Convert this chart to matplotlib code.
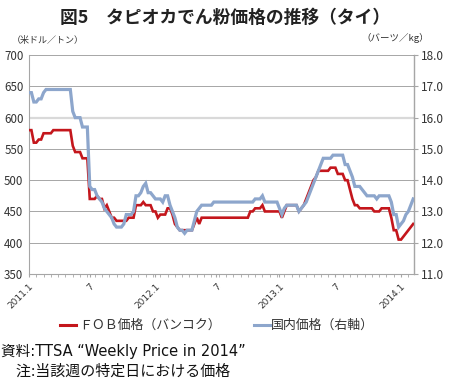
import numpy as np
import matplotlib
matplotlib.use('Agg')
import matplotlib.pyplot as plt

plt.rcParams['font.family'] = ['Noto Sans CJK JP', 'DejaVu Sans']

# ---------------------------------------------------------------------------
# data (weekly)
# ---------------------------------------------------------------------------
# FOB price, Bangkok (USD/t, left axis)
fob_usd = [
    580, 580, 560, 560, 565, 565, 575, 575, 575, 575,
    580, 580, 580, 580, 580, 580, 580, 580, 555, 545,
    545, 545, 535, 535, 535, 470, 470, 470, 475, 470,
    470, 455, 460, 450, 440, 440, 435, 435, 435, 435,
    435, 440, 440, 440, 460, 460, 460, 465, 460, 460,
    460, 450, 450, 440, 445, 445, 445, 455, 455, 445,
    430, 425, 420, 420, 420, 420, 420, 420, 430, 440,
    430, 440, 440, 440, 440, 440, 440, 440, 440, 440,
    440, 440, 440, 440, 440, 440, 440, 440, 440, 440,
    440, 450, 450, 455, 455, 455, 460, 450, 450, 450,
    450, 450, 450, 450, 440, 450, 460, 460, 460, 460,
    460, 450, 455, 460, 470, 480, 490, 500, 505, 515,
    515, 515, 515, 515, 520, 520, 520, 510, 510, 510,
    500, 500, 485, 470, 460, 460, 455, 455, 455, 455,
    455, 455, 450, 450, 450, 455, 455, 455, 455, 440,
    420, 420, 405, 405, 410, 415, 420, 425, 430,
]

# domestic price (baht/kg, right axis)
dom_baht = [
    16.8, 16.8, 16.5, 16.5, 16.6, 16.6, 16.8, 16.9, 16.9, 16.9,
    16.9, 16.9, 16.9, 16.9, 16.9, 16.9, 16.9, 16.9, 16.2, 16.0,
    16.0, 16.0, 15.7, 15.7, 15.7, 13.8, 13.7, 13.7, 13.5, 13.4,
    13.3, 13.1, 13.0, 12.9, 12.8, 12.6, 12.5, 12.5, 12.5, 12.6,
    12.9, 12.9, 12.9, 13.0, 13.5, 13.5, 13.6, 13.8, 13.9, 13.6,
    13.6, 13.5, 13.4, 13.4, 13.4, 13.3, 13.5, 13.5, 13.2, 13.0,
    12.8, 12.5, 12.4, 12.4, 12.3, 12.4, 12.4, 12.4, 12.7, 13.0,
    13.1, 13.2, 13.2, 13.2, 13.2, 13.2, 13.3, 13.3, 13.3, 13.3,
    13.3, 13.3, 13.3, 13.3, 13.3, 13.3, 13.3, 13.3, 13.3, 13.3,
    13.3, 13.3, 13.3, 13.4, 13.4, 13.4, 13.5, 13.3, 13.3, 13.3,
    13.3, 13.3, 13.3, 13.1, 12.9, 13.1, 13.2, 13.2, 13.2, 13.2,
    13.2, 13.0, 13.1, 13.2, 13.3, 13.5, 13.7, 13.9, 14.1, 14.3,
    14.5, 14.7, 14.7, 14.7, 14.7, 14.8, 14.8, 14.8, 14.8, 14.8,
    14.5, 14.5, 14.3, 14.1, 13.8, 13.8, 13.8, 13.7, 13.6, 13.5,
    13.5, 13.5, 13.5, 13.4, 13.5, 13.5, 13.5, 13.5, 13.5, 13.3,
    12.9, 12.9, 12.5, 12.6, 12.7, 12.9, 13.0, 13.2, 13.4,
]

tick_pos = [0, 25, 52, 77, 103, 126, 153]
tick_labels = ['2011.1', '7', '2012.1', '7', '2013.1', '7', '2014.1']

RED = '#C4161C'
BLUE = '#8DA6CC'
GRID = '#A6A6A6'
TXT = '#333333'

weeks = np.arange(len(fob_usd))

fig = plt.figure(figsize=(4.5, 3.8), dpi=100)
ax = fig.add_axes([0.0644, 0.279, 0.856, 0.576])
ax2 = ax.twinx()

# left axis -------------------------------------------------------------
ax.set_ylim(350, 700)
ax.set_yticks(np.arange(350, 701, 50))
ax.set_xlim(0, len(fob_usd) - 0.6)
for v in np.arange(400, 701, 50):
    if v == 600:
        ax.axhline(v, color='#D9D9D9', lw=1.6, zorder=0)
    else:
        ax.axhline(v, color=GRID, lw=0.7, zorder=0)

ax.plot(weeks, fob_usd, color=RED, lw=1.9, solid_joinstyle='miter', zorder=3)

ax.set_xticks(tick_pos)
ax.set_xticklabels(tick_labels, rotation=45, ha='right',
                   rotation_mode='anchor', fontsize=6.5, color=TXT,
                   family=['DejaVu Sans'])
ax.set_xticks(np.arange(0, len(fob_usd), 3), minor=True)
ax.tick_params(axis='x', which='both', length=2.5, color=GRID, direction='out',
               pad=3)
ax.tick_params(axis='y', length=0, labelsize=8.3, labelcolor=TXT, pad=4)

ax.spines['top'].set_visible(False)
ax2.spines['top'].set_visible(False)
ax.spines['left'].set_color(GRID)
ax.spines['bottom'].set_color(GRID)
ax2.spines['left'].set_visible(False)
ax2.spines['bottom'].set_visible(False)
ax2.spines['right'].set_color(GRID)

# right axis ------------------------------------------------------------
ax2.set_ylim(11.0, 18.0)
ax2.set_yticks(np.arange(11.0, 18.01, 1.0))
ax2.set_yticklabels([f'{v:.1f}' for v in np.arange(11.0, 18.01, 1.0)])
ax2.tick_params(axis='y', length=3, color=GRID, labelsize=8.5, labelcolor=TXT,
                pad=2)
ax2.plot(weeks, dom_baht, color=BLUE, lw=2.3, solid_joinstyle='miter', zorder=3)

# texts -------------------------------------------------------------------
fig.text(0.5, 0.953, '図5　タピオカでん粉価格の推移（タイ）', ha='center',
         va='center', fontsize=12.8, fontweight='bold', color='#222222')
fig.text(0.025, 0.893, '（米ドル／トン）', ha='left', va='center',
         fontsize=6.5, color=TXT)
fig.text(0.953, 0.9, '（バーツ／kg）', ha='right', va='center',
         fontsize=6.8, color=TXT)

# legend
ly = 0.145
fig.add_artist(plt.Line2D([0.133, 0.168], [ly, ly], color=RED, lw=2.2))
fig.text(0.175, ly, 'ＦＯＢ価格（バンコク）', ha='left', va='center',
         fontsize=9.3, color=TXT)
fig.add_artist(plt.Line2D([0.565, 0.6], [ly, ly], color=BLUE, lw=2.2))
fig.text(0.602, ly, '国内価格（右軸）', ha='left', va='center',
         fontsize=9.3, color=TXT)

fig.text(0.003, 0.074, '資料:TTSA \u201cWeekly Price in 2014\u201d', ha='left',
         va='center', fontsize=10.5, color='#111111',
         family=['DejaVu Sans', 'Noto Sans CJK JP'])
fig.text(0.003, 0.022, '　注:当該週の特定日における価格', ha='left',
         va='center', fontsize=10.8, color='#111111')

fig.savefig('out.png', dpi=100)
